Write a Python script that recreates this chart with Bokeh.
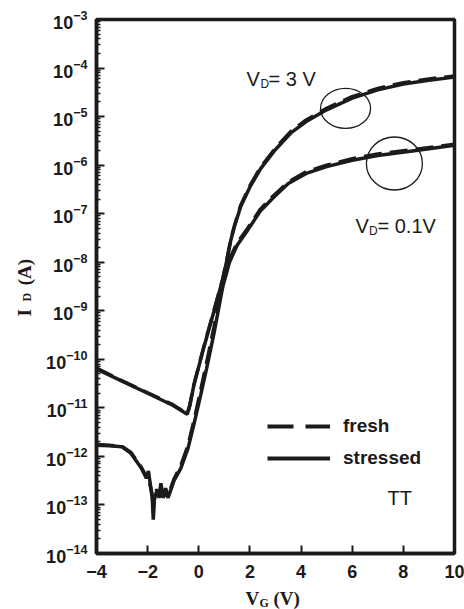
from bokeh.plotting import figure
from bokeh.models import Range1d, FixedTicker, Label, Legend, LegendItem
from bokeh.embed import file_html
from bokeh.resources import INLINE
import math

# ---- data: gate voltage (V) and drain current (A) ----
vg_3v = [-4, -3, -2, -1, -0.45, -0.35, -0.2, 0.2, 0.6, 0.94, 1.1, 1.25, 1.4, 1.64,
         2.0, 2.42, 3.0, 3.6, 4.2, 5.0, 6.0, 7.0, 8.0, 9.0, 10.0]
id_3v_stressed = [6.3e-11, 3.55e-11, 2.0e-11, 1.12e-11, 7.4e-12, 1.12e-11, 2.8e-11,
                  1.78e-10, 1.0e-9, 4.5e-9, 1.12e-8, 2.8e-8, 5.6e-8, 1.41e-7,
                  3.55e-7, 8.5e-7, 2.1e-6, 4.6e-6, 7.9e-6, 1.38e-5, 2.4e-5,
                  3.55e-5, 4.7e-5, 5.6e-5, 6.5e-5]
id_3v_fresh = [6.6e-11, 3.6e-11, 2.05e-11, 1.15e-11, 7.6e-12, 1.15e-11, 2.9e-11,
               1.85e-10, 1.05e-9, 4.6e-9, 1.15e-8, 2.9e-8, 5.8e-8, 1.5e-7,
               3.8e-7, 9.1e-7, 2.25e-6, 4.95e-6, 8.5e-6, 1.48e-5, 2.58e-5,
               3.8e-5, 5.0e-5, 5.95e-5, 6.9e-5]

vg_01v = [-4, -3.5, -3.0, -2.65, -2.25, -2.05, -1.97, -1.9, -1.82, -1.78, -1.74,
          -1.65, -1.55, -1.48, -1.4, -1.3, -1.2, -1.1, -0.97, -0.7, -0.42, -0.19,
          0.08, 0.3, 0.6, 0.94, 1.2, 1.5, 1.9, 2.4, 2.9, 3.5, 4.2, 5.0, 6.0, 7.0,
          8.5, 10.0]
id_01v_stressed = [1.7e-12, 1.66e-12, 1.58e-12, 1.15e-12, 5.75e-13, 3.55e-13, 5.0e-13,
                   2.8e-13, 1.41e-13, 5.0e-14, 1.26e-13, 1.9e-13, 1.58e-13, 2.8e-13,
                   1.41e-13, 1.78e-13, 1.41e-13, 2.0e-13, 3.16e-13, 5.75e-13, 1.48e-12,
                   4.57e-12, 1.9e-11, 6.3e-11, 3.55e-10, 3.16e-9, 1.0e-8, 2.24e-8,
                   4.47e-8, 1.12e-7, 2.1e-7, 4.17e-7, 6.76e-7, 9.3e-7, 1.26e-6,
                   1.58e-6, 2.0e-6, 2.57e-6]
id_01v_fresh = [1.75e-12, 1.7e-12, 1.6e-12, 1.2e-12, 6.0e-13, 3.8e-13, 4.4e-13,
                2.5e-13, 1.6e-13, 7.0e-14, 1.4e-13, 2.1e-13, 1.4e-13, 2.4e-13,
                1.6e-13, 2.2e-13, 1.6e-13, 2.2e-13, 3.4e-13, 6.5e-13, 1.7e-12,
                5.4e-12, 2.4e-11, 8.3e-11, 4.8e-10, 3.9e-9, 1.15e-8, 2.5e-8,
                4.9e-8, 1.22e-7, 2.28e-7, 4.5e-7, 7.3e-7, 1.0e-6, 1.35e-6,
                1.7e-6, 2.12e-6, 2.7e-6]

# highlight rings around the saturation region of each curve
ring_vg = [5.74, 7.65]
ring_id = [1.47e-5, 1.08e-6]
ring_w = [50, 56]
ring_h = [40, 53]

x_ticks = [-4, -2, 0, 2, 4, 6, 8, 10]
y_ticks = [10.0 ** e for e in range(-14, -2)]
y_minor = [k * 10.0 ** e for e in range(-14, -3) for k in range(2, 10)]

X_MIN, X_MAX = -4, 10
LOG_MIN, LOG_MAX = -14, -3

INK = "#1c1a1a"
SANS = "Liberation Sans"
SERIF = "Liberation Serif"
NAN = float("nan")
NB = "\u00a0"

# frame geometry on the canvas (pixels)
FL, FR, FT, FB = 96, 454, 19, 553

p = figure(width=464, height=609, x_range=Range1d(X_MIN, X_MAX),
           y_range=Range1d(10.0 ** LOG_MIN, 10.0 ** LOG_MAX), y_axis_type="log",
           title=None, output_backend="svg", toolbar_location=None,
           min_border_left=FL, min_border_right=464 - FR,
           min_border_top=FT, min_border_bottom=609 - FB)
p.background_fill_color = "white"
p.border_fill_color = "white"
p.grid.visible = False
p.outline_line_color = INK
p.outline_line_width = 3.5

# x axis
xa = p.xaxis[0]
xa.ticker = FixedTicker(ticks=x_ticks)
xa.axis_line_width = 3.5
xa.axis_line_color = INK
xa.major_tick_in = 8
xa.major_tick_out = 0
xa.major_tick_line_width = 2
xa.major_tick_line_color = INK
xa.minor_tick_in = 0
xa.minor_tick_out = 0
xa.major_label_text_font = SANS
xa.major_label_text_font_style = "bold"
xa.major_label_text_font_size = "18px"
xa.major_label_text_color = INK
xa.major_label_standoff = 11

# y axis
ya = p.yaxis[0]
ya.ticker = FixedTicker(ticks=y_ticks, minor_ticks=y_minor)
ya.axis_line_width = 3.5
ya.axis_line_color = INK
ya.major_tick_in = 8
ya.major_tick_out = 0
ya.major_tick_line_width = 2
ya.major_tick_line_color = INK
ya.minor_tick_in = 4
ya.minor_tick_out = 0
ya.minor_tick_line_width = 1.5
ya.minor_tick_line_color = INK
ya.major_label_text_font = SANS
ya.major_label_text_font_style = "bold"
ya.major_label_text_font_size = "18px"
ya.major_label_text_color = INK
ya.major_label_standoff = 9

# curves
LW = 3.5
DASH = "18 8"
p.line(vg_3v, id_3v_fresh, line_width=LW, line_dash=DASH, color=INK)
p.line(vg_01v, id_01v_fresh, line_width=LW, line_dash=DASH, color=INK)
p.line(vg_3v, id_3v_stressed, line_width=LW, color=INK)
p.line(vg_01v, id_01v_stressed, line_width=LW, color=INK)

p.ellipse(x=ring_vg, y=ring_id, width=ring_w, height=ring_h,
          width_units="screen", height_units="screen",
          fill_color=None, line_color=INK, line_width=1.3)

# legend keys (single undrawn point so only the legend swatch shows)
key_fresh = p.line(x=[NAN], y=[NAN], line_width=4, line_dash="26 12", color=INK)
key_stressed = p.line(x=[NAN], y=[NAN], line_width=4, color=INK)
legend = Legend(items=[LegendItem(label="fresh", renderers=[key_fresh]),
                       LegendItem(label="stressed", renderers=[key_stressed])],
                location=(171, 84), padding=0, margin=0, spacing=10,
                glyph_width=63, glyph_height=22, label_height=22,
                label_standoff=13, border_line_color=None,
                background_fill_alpha=0,
                label_text_font=SANS, label_text_font_style="bold",
                label_text_font_size="19px", label_text_color=INK)
p.add_layout(legend)


def put(text, cx, cy, size, font=SANS, style="normal"):
    """Text inside the frame, placed by canvas pixel."""
    p.add_layout(Label(x=cx - FL, y=FB - cy, x_units="screen", y_units="screen",
                       text=text, text_font=font, text_font_style=style,
                       text_font_size=f"{size}px", text_color=INK,
                       text_align="left", text_baseline="alphabetic"))


def put_outside(text, cx, cy, size, side, angle=0.0):
    """Axis-title text outside the frame: anchored through the data scales
    and hosted in a side panel so it is not clipped to the frame."""
    xd = X_MIN + (cx - FL) * (X_MAX - X_MIN) / (FR - FL)
    yd = 10.0 ** (LOG_MAX - (cy - FT) * (LOG_MAX - LOG_MIN) / (FB - FT))
    p.add_layout(Label(x=xd, y=yd, x_units="data", y_units="data",
                       text=text, text_font=SERIF, text_font_style="bold",
                       text_font_size=f"{size}px", text_color=INK,
                       text_align="left", text_baseline="alphabetic",
                       angle=angle), side)


put("V", 246, 78, 20)
put("D", 260, 83, 12)
put("= 3 V", 268, 78, 20)

put("V", 355, 225, 20)
put("D", 368.5, 230, 12)
put("= 0.1V", 377, 225, 20)

put("TT", 387, 497, 20)

# axis titles: V_G (V) and I_D (A)
put_outside("V" + NB * 3 + "(V)", 245, 598, 19, "below")
put_outside("G", 259, 602, 12, "right")
put_outside("I" + NB * 5 + "(A)", 23.5, 316, 19, "left", math.pi / 2)
put_outside("D", 26, 301, 12, "above", math.pi / 2)

open("out.html", "w").write(file_html(p, INLINE))
